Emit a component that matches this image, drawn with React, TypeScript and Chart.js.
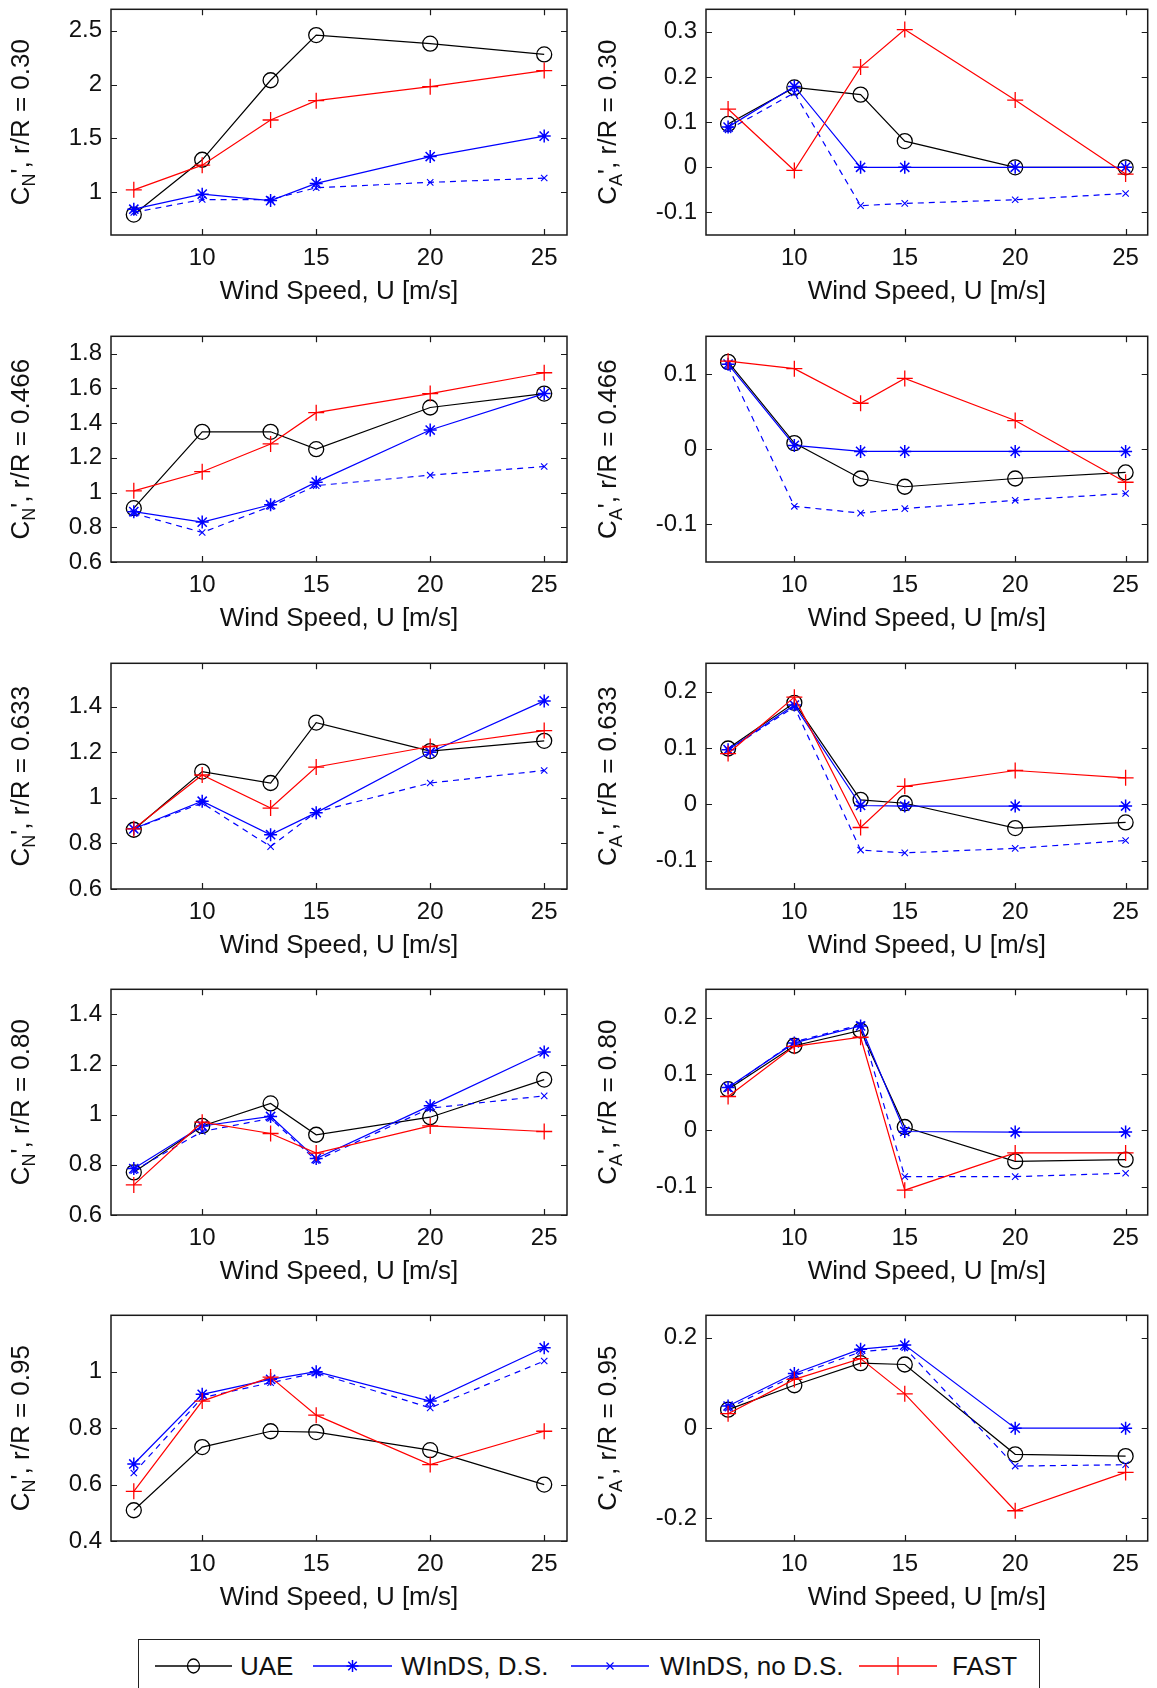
import React, { useEffect, useRef } from "react";
import { Chart, registerables } from "chart.js";
Chart.register(...registerables);

// ---------- data ----------
const windSpeed = [7, 10, 13, 15, 20, 25];
const xTicks = [10, 15, 20, 25];

// r/R = 0.30
const cn030UAE = [0.79, 1.3, 2.04, 2.46, 2.38, 2.28];
const cn030DS = [0.84, 0.98, 0.92, 1.08, 1.33, 1.52];
const cn030NoDS = [0.81, 0.93, 0.93, 1.04, 1.09, 1.13];
const cn030FAST = [1.02, 1.25, 1.67, 1.85, 1.98, 2.13];
const ca030UAE = [0.096, 0.177, 0.161, 0.058, 0, 0];
const ca030DS = [0.089, 0.179, 0, 0, 0, 0];
const ca030NoDS = [0.083, 0.165, -0.085, -0.08, -0.072, -0.058];
const ca030FAST = [0.129, -0.007, 0.222, 0.305, 0.149, -0.015];

// r/R = 0.466
const cn0466UAE = [0.91, 1.35, 1.35, 1.25, 1.49, 1.57];
const cn0466DS = [0.89, 0.83, 0.93, 1.06, 1.36, 1.57];
const cn0466NoDS = [0.88, 0.77, 0.92, 1.04, 1.1, 1.15];
const cn0466FAST = [1.01, 1.12, 1.28, 1.46, 1.57, 1.69];
const ca0466UAE = [0.116, 0.008, -0.039, -0.05, -0.039, -0.031];
const ca0466DS = [0.113, 0.005, -0.003, -0.003, -0.003, -0.003];
const ca0466NoDS = [0.11, -0.076, -0.085, -0.079, -0.068, -0.059];
const ca0466FAST = [0.117, 0.107, 0.061, 0.094, 0.038, -0.044];

// r/R = 0.633
const cn0633UAE = [0.86, 1.115, 1.065, 1.33, 1.205, 1.25];
const cn0633DS = [0.864, 0.985, 0.838, 0.935, 1.2, 1.425];
const cn0633NoDS = [0.864, 0.977, 0.786, 0.938, 1.065, 1.12];
const cn0633FAST = [0.864, 1.1, 0.955, 1.135, 1.225, 1.295];
const ca0633UAE = [0.099, 0.18, 0.008, 0.002, -0.042, -0.032];
const ca0633DS = [0.097, 0.176, -0.002, -0.003, -0.003, -0.003];
const ca0633NoDS = [0.096, 0.173, -0.081, -0.086, -0.078, -0.064];
const ca0633FAST = [0.09, 0.19, -0.041, 0.032, 0.06, 0.047];

// r/R = 0.80
const cn080UAE = [0.77, 0.955, 1.045, 0.92, 0.99, 1.14];
const cn080DS = [0.785, 0.955, 0.993, 0.825, 1.036, 1.25];
const cn080NoDS = [0.777, 0.933, 0.985, 0.817, 1.026, 1.075];
const cn080FAST = [0.72, 0.97, 0.925, 0.847, 0.955, 0.933];
const ca080UAE = [0.073, 0.15, 0.177, 0.006, -0.055, -0.052];
const ca080DS = [0.076, 0.155, 0.185, -0.002, -0.003, -0.003];
const ca080NoDS = [0.074, 0.157, 0.187, -0.082, -0.082, -0.076];
const ca080FAST = [0.06, 0.149, 0.165, -0.106, -0.04, -0.04];

// r/R = 0.95
const cn095UAE = [0.509, 0.733, 0.789, 0.786, 0.722, 0.6];
const cn095DS = [0.673, 0.92, 0.973, 1.0, 0.896, 1.085];
const cn095NoDS = [0.641, 0.908, 0.961, 0.996, 0.872, 1.038];
const cn095FAST = [0.576, 0.896, 0.981, 0.846, 0.671, 0.789];
const ca095UAE = [0.041, 0.095, 0.144, 0.141, -0.058, -0.062];
const ca095DS = [0.049, 0.121, 0.175, 0.184, 0, 0];
const ca095NoDS = [0.044, 0.116, 0.169, 0.178, -0.084, -0.081];
const ca095FAST = [0.032, 0.108, 0.154, 0.076, -0.183, -0.098];

// y tick labels
const cn030Ticks = [1, 1.5, 2, 2.5];
const ca030Ticks = [-0.1, 0, 0.1, 0.2, 0.3];
const cn0466Ticks = [0.6, 0.8, 1, 1.2, 1.4, 1.6, 1.8];
const ca0466Ticks = [-0.1, 0, 0.1];
const cn0633Ticks = [0.6, 0.8, 1, 1.2, 1.4];
const ca0633Ticks = [-0.1, 0, 0.1, 0.2];
const cn080Ticks = [0.6, 0.8, 1, 1.2, 1.4];
const ca080Ticks = [-0.1, 0, 0.1, 0.2];
const cn095Ticks = [0.4, 0.6, 0.8, 1];
const ca095Ticks = [-0.2, 0, 0.2];

const seriesLabels = ["UAE", "WInDS, D.S.", "WInDS, no D.S.", "FAST"];
const xTitle = "Wind Speed, U [m/s]";

// ---------- styles ----------
const FONT = '"Liberation Sans", Arial, Helvetica, sans-serif';
const seriesStyles = [
  { color: "#000000", pointStyle: "circle", radius: 7.5, pbw: 1.3, dash: [] as number[], lw: 1.2, order: 3 },
  { color: "#0000ff", pointStyle: "star", radius: 6.5, pbw: 1.5, dash: [] as number[], lw: 1.2, order: 2 },
  { color: "#0000ff", pointStyle: "crossRot", radius: 4.5, pbw: 1.1, dash: [6, 5], lw: 1.2, order: 1 },
  { color: "#ff0000", pointStyle: "cross", radius: 8, pbw: 1.3, dash: [] as number[], lw: 1.2, order: 0 },
];

const rowTops = [8, 335, 662, 988, 1314];
const BOX_H = 227;
const CANVAS_H = 315;
const colGeom = [
  { canvasLeft: 0, canvasW: 580, yAxisW: 111, padRight: 13, titleX: 22 },
  { canvasLeft: 580, canvasW: 577, yAxisW: 126, padRight: 2, titleX: 29 },
];

const panels = [
  { row: 0, col: 0, sub: "N", rr: "0.30", yMin: 0.6, yMax: 2.7, yTicks: cn030Ticks, series: [cn030UAE, cn030DS, cn030NoDS, cn030FAST] },
  { row: 0, col: 1, sub: "A", rr: "0.30", yMin: -0.15, yMax: 0.35, yTicks: ca030Ticks, series: [ca030UAE, ca030DS, ca030NoDS, ca030FAST] },
  { row: 1, col: 0, sub: "N", rr: "0.466", yMin: 0.6, yMax: 1.9, yTicks: cn0466Ticks, series: [cn0466UAE, cn0466DS, cn0466NoDS, cn0466FAST] },
  { row: 1, col: 1, sub: "A", rr: "0.466", yMin: -0.15, yMax: 0.15, yTicks: ca0466Ticks, series: [ca0466UAE, ca0466DS, ca0466NoDS, ca0466FAST] },
  { row: 2, col: 0, sub: "N", rr: "0.633", yMin: 0.6, yMax: 1.59, yTicks: cn0633Ticks, series: [cn0633UAE, cn0633DS, cn0633NoDS, cn0633FAST] },
  { row: 2, col: 1, sub: "A", rr: "0.633", yMin: -0.15, yMax: 0.25, yTicks: ca0633Ticks, series: [ca0633UAE, ca0633DS, ca0633NoDS, ca0633FAST] },
  { row: 3, col: 0, sub: "N", rr: "0.80", yMin: 0.6, yMax: 1.5, yTicks: cn080Ticks, series: [cn080UAE, cn080DS, cn080NoDS, cn080FAST] },
  { row: 3, col: 1, sub: "A", rr: "0.80", yMin: -0.15, yMax: 0.25, yTicks: ca080Ticks, series: [ca080UAE, ca080DS, ca080NoDS, ca080FAST] },
  { row: 4, col: 0, sub: "N", rr: "0.95", yMin: 0.4, yMax: 1.2, yTicks: cn095Ticks, series: [cn095UAE, cn095DS, cn095NoDS, cn095FAST] },
  { row: 4, col: 1, sub: "A", rr: "0.95", yMin: -0.25, yMax: 0.25, yTicks: ca095Ticks, series: [ca095UAE, ca095DS, ca095NoDS, ca095FAST] },
];

const fmt = (v: number) => {
  const n = Math.round(v * 1000) / 1000;
  return n === 0 ? "0" : String(n);
};

const framePlugin = {
  id: "frame",
  afterDraw(chart: any, _args: any, opts: any) {
    const { ctx, chartArea: a } = chart;
    const xs = chart.scales.x;
    const ys = chart.scales.y;
    ctx.save();
    ctx.strokeStyle = "#1a1a1a";
    ctx.lineWidth = 1.5;
    ctx.setLineDash([]);
    ctx.strokeRect(a.left, a.top, a.right - a.left, a.bottom - a.top);
    ctx.lineWidth = 1.2;
    const tl = 6;
    ctx.beginPath();
    for (const v of xTicks) {
      const px = Math.round(xs.getPixelForValue(v)) + 0.5;
      ctx.moveTo(px, a.bottom);
      ctx.lineTo(px, a.bottom - tl);
      ctx.moveTo(px, a.top);
      ctx.lineTo(px, a.top + tl);
    }
    for (const v of opts.yTicks) {
      const py = Math.round(ys.getPixelForValue(v)) + 0.5;
      ctx.moveTo(a.left, py);
      ctx.lineTo(a.left + tl, py);
      ctx.moveTo(a.right, py);
      ctx.lineTo(a.right - tl, py);
    }
    ctx.stroke();

    // x title
    ctx.fillStyle = "#111";
    ctx.font = `26px ${FONT}`;
    ctx.textAlign = "center";
    ctx.textBaseline = "middle";
    ctx.fillText(xTitle, (a.left + a.right) / 2, a.bottom + 57);

    // y title, rotated, with subscript
    const mainF = `26px ${FONT}`;
    const subF = `18px ${FONT}`;
    const rest = `', r/R = ${opts.rr}`;
    ctx.translate(opts.titleX, (a.top + a.bottom) / 2);
    ctx.rotate(-Math.PI / 2);
    ctx.font = mainF;
    const wC = ctx.measureText("C").width;
    const wR = ctx.measureText(rest).width;
    ctx.font = subF;
    const wS = ctx.measureText(opts.sub).width;
    const total = wC + wS + wR;
    const x0 = -total / 2;
    ctx.textAlign = "left";
    ctx.font = mainF;
    ctx.fillText("C", x0, 0);
    ctx.font = subF;
    ctx.fillText(opts.sub, x0 + wC, 8);
    ctx.font = mainF;
    ctx.fillText(rest, x0 + wC + wS, 0);
    ctx.restore();
  },
};

function Panel({ p }: { p: any }) {
  const ref = useRef<HTMLCanvasElement | null>(null);
  const g = colGeom[p.col];
  const top = rowTops[p.row] - 8;
  useEffect(() => {
    if (!ref.current) return;
    const datasets = p.series.map((arr: number[], i: number) => {
      const s = seriesStyles[i];
      return {
        label: seriesLabels[i],
        data: windSpeed.map((x, j) => ({ x, y: arr[j] })),
        borderColor: s.color,
        backgroundColor: "rgba(0,0,0,0)",
        borderWidth: s.lw,
        borderDash: s.dash,
        pointStyle: s.pointStyle,
        pointRadius: s.radius,
        pointBorderWidth: s.pbw,
        pointBorderColor: s.color,
        pointBackgroundColor: "rgba(0,0,0,0)",
        tension: 0,
        fill: false,
        order: s.order,
      };
    });
    const chart = new Chart(ref.current, {
      type: "line",
      data: { datasets },
      options: {
        animation: false,
        responsive: false,
        maintainAspectRatio: false,
        devicePixelRatio: 1,
        events: [],
        layout: { padding: { left: 0, right: g.padRight, top: 8, bottom: 0 } },
        plugins: {
          legend: { display: false },
          tooltip: { enabled: false },
          frame: { yTicks: p.yTicks, rr: p.rr, sub: p.sub, titleX: g.titleX },
        } as any,
        scales: {
          x: {
            type: "linear",
            min: 6,
            max: 26,
            afterBuildTicks: (s: any) => {
              s.ticks = xTicks.map((v) => ({ value: v }));
            },
            afterFit: (s: any) => {
              s.height = CANVAS_H - 8 - BOX_H;
              s.paddingLeft = 0;
              s.paddingRight = 0;
            },
            grid: { display: false, drawTicks: false },
            border: { display: false },
            ticks: {
              font: { size: 24, family: FONT },
              color: "#111",
              padding: 9,
              maxRotation: 0,
              autoSkip: false,
              callback: (v: any) => String(v),
            },
          },
          y: {
            type: "linear",
            min: p.yMin,
            max: p.yMax,
            afterBuildTicks: (s: any) => {
              s.ticks = p.yTicks.map((v: number) => ({ value: v }));
            },
            afterFit: (s: any) => {
              s.width = g.yAxisW;
              s.paddingTop = 0;
              s.paddingBottom = 0;
            },
            grid: { display: false, drawTicks: false },
            border: { display: false },
            ticks: {
              font: { size: 24, family: FONT },
              color: "#111",
              padding: 9,
              autoSkip: false,
              callback: (v: any) => fmt(Number(v)),
            },
          },
        },
      } as any,
      plugins: [framePlugin as any],
    });
    return () => chart.destroy();
  }, []);
  return (
    <canvas
      ref={ref}
      width={g.canvasW}
      height={CANVAS_H}
      style={{ position: "absolute", left: g.canvasLeft, top, width: g.canvasW, height: CANVAS_H }}
    />
  );
}

function LegendSample({ idx, x1, x2 }: { idx: number; x1: number; x2: number }) {
  const s = seriesStyles[idx];
  const cy = 26;
  const w = x2 - x1;
  const mid = w / 2;
  let marker: any = null;
  if (s.pointStyle === "circle") {
    marker = <ellipse cx={mid} cy={cy} rx={6} ry={7} fill="none" stroke={s.color} strokeWidth={1.3} />;
  } else if (s.pointStyle === "star") {
    const r = 6;
    const d = r * 0.7071;
    marker = (
      <g stroke={s.color} strokeWidth={1.5}>
        <line x1={mid - r} y1={cy} x2={mid + r} y2={cy} />
        <line x1={mid} y1={cy - r} x2={mid} y2={cy + r} />
        <line x1={mid - d} y1={cy - d} x2={mid + d} y2={cy + d} />
        <line x1={mid - d} y1={cy + d} x2={mid + d} y2={cy - d} />
      </g>
    );
  } else if (s.pointStyle === "crossRot") {
    const d = 3.5;
    marker = (
      <g stroke={s.color} strokeWidth={1.1}>
        <line x1={mid - d} y1={cy - d} x2={mid + d} y2={cy + d} />
        <line x1={mid - d} y1={cy + d} x2={mid + d} y2={cy - d} />
      </g>
    );
  } else {
    const r = 9;
    marker = (
      <g stroke={s.color} strokeWidth={1.3}>
        <line x1={mid} y1={cy - r} x2={mid} y2={cy + r} />
      </g>
    );
  }
  return (
    <svg width={w} height={52} style={{ position: "absolute", left: x1 - 138, top: 0 }}>
      <line x1={0} y1={cy} x2={w} y2={cy} stroke={s.color} strokeWidth={1.5} />
      {marker}
    </svg>
  );
}

function Legend() {
  const samples = [
    { x1: 154, x2: 231, tx: 239 },
    { x1: 312, x2: 391, tx: 400 },
    { x1: 570, x2: 648, tx: 659 },
    { x1: 858, x2: 936, tx: 951 },
  ];
  return (
    <div
      style={{
        position: "absolute",
        left: 138,
        top: 1639,
        width: 902,
        height: 70,
        border: "1.5px solid #222",
        boxSizing: "border-box",
        background: "#fff",
      }}
    >
      {samples.map((s, i) => (
        <React.Fragment key={i}>
          <LegendSample idx={i} x1={s.x1} x2={s.x2} />
          <span
            style={{
              position: "absolute",
              left: s.tx - 138,
              top: 26 - 15,
              fontFamily: FONT,
              fontSize: 26,
              lineHeight: "30px",
              color: "#111",
              whiteSpace: "nowrap",
            }}
          >
            {seriesLabels[i]}
          </span>
        </React.Fragment>
      ))}
    </div>
  );
}

export default function App() {
  return (
    <div
      style={{
        position: "absolute",
        left: 0,
        top: 0,
        width: 1157,
        height: 1688,
        overflow: "hidden",
        background: "#fff",
      }}
    >
      {panels.map((p, i) => (
        <Panel key={i} p={p} />
      ))}
      <Legend />
    </div>
  );
}
